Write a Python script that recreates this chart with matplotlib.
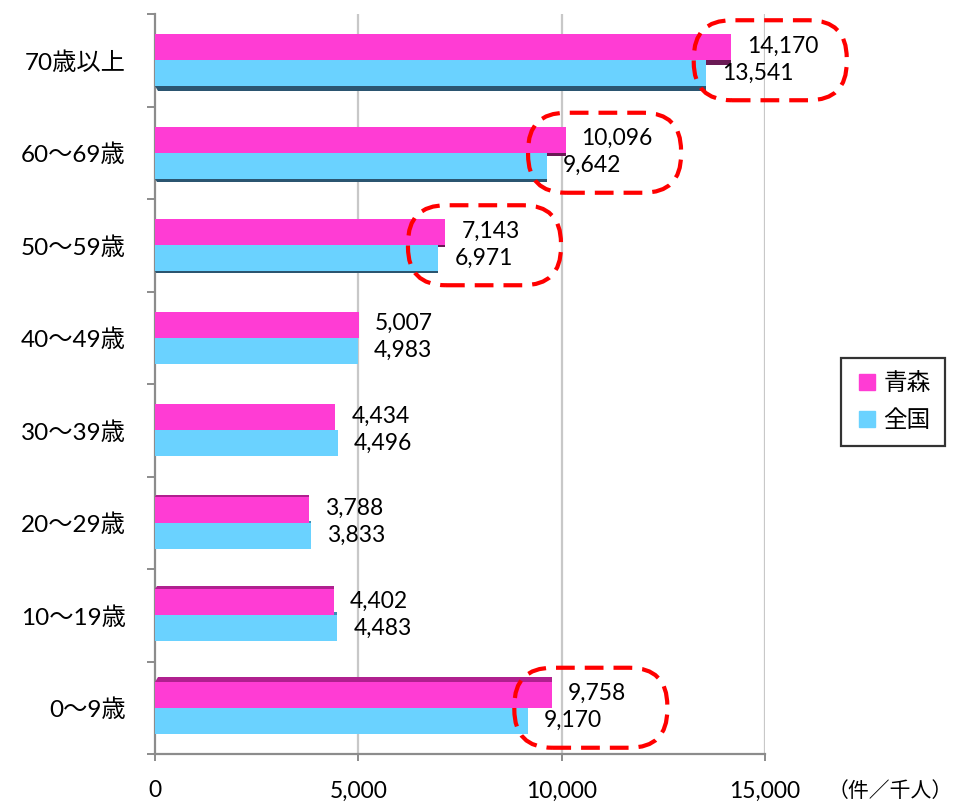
import matplotlib
matplotlib.use("Agg")
import matplotlib.pyplot as plt
from matplotlib.patches import Polygon, FancyBboxPatch
from matplotlib.lines import Line2D
from matplotlib.transforms import IdentityTransform
import numpy as np

# ---- data (bottom to top) ----
categories = ["0〜9歳", "10〜19歳", "20〜29歳", "30〜39歳",
              "40〜49歳", "50〜59歳", "60〜69歳", "70歳以上"]
aomori = [9758, 4402, 3788, 4434, 5007, 7143, 10096, 14170]
zenkoku = [9170, 4483, 3833, 4496, 4983, 6971, 9642, 13541]
series_names = ["青森", "全国"]
x_ticks = [0, 5000, 10000, 15000]
x_tick_labels = ["0", "5,000", "10,000", "15,000"]
unit_label = "（件／千人）"
highlight = ["0〜9歳", "50〜59歳", "60〜69歳", "70歳以上"]

C_MAG = "#FF3CD4"
C_CYA = "#6AD2FF"
C_MAG_D = "#B0208F"
C_CYA_D = "#2B5570"
GRID = "#C8C8C8"
AXC = "#8C8C8C"

NUM_FONT = ["Lato", "Noto Sans CJK JP"]
JP_FONT = ["Noto Sans CJK JP", "DejaVu Sans"]

W, H = 957, 806
fig = plt.figure(figsize=(W / 100, H / 100), dpi=100)
ax = fig.add_axes([155 / W, (H - 754) / H, (765 - 155) / W, (754 - 14) / H])

n = len(categories)
y = np.arange(n)
bh = 0.28
xmax = 15000
ax.set_xlim(0, xmax)
ax.set_ylim(-0.5, n - 0.5)

px_x = xmax / 610.0          # data units per pixel in x
px_y = n / 740.0             # data units per pixel in y

# gridlines
for t in x_ticks[1:]:
    ax.axvline(t, color=GRID, lw=1.6, zorder=0)

# bars
ax.barh(y + bh / 2, aomori, height=bh, color=C_MAG, zorder=3, linewidth=0)
ax.barh(y - bh / 2, zenkoku, height=bh, color=C_CYA, zorder=4, linewidth=0)

# pseudo-3D faces
for k in range(n):
    t = (k - 3.5) / 3.5 * 4.5 * px_y     # face thickness in data units
    s = abs(t) / px_y * 0.6 * px_x
    if t > 0:   # upper bars: bottom faces visible
        for val, yc, col, z in [(aomori[k], y[k] + bh / 2, "#6A1A55", 2.5),
                                (zenkoku[k], y[k] - bh / 2, C_CYA_D, 3.5)]:
            yb = yc - bh / 2
            ax.add_patch(Polygon([(0, yb), (val, yb), (val, yb - t), (s, yb - t)],
                                 closed=True, color=col, lw=0, zorder=z))
    elif t < 0:  # lower bars: top faces visible
        tt = -t
        for val, yc, col, z in [(aomori[k], y[k] + bh / 2, C_MAG_D, 4.5),
                                (zenkoku[k], y[k] - bh / 2, "#3C8FB5", 2.5)]:
            yt = yc + bh / 2
            ax.add_patch(Polygon([(0, yt), (val, yt), (val, yt + tt), (s, yt + tt)],
                                 closed=True, color=col, lw=0, zorder=z))

# value labels
for k in range(n):
    ax.annotate(f"{aomori[k]:,}", (aomori[k], y[k] + bh / 2),
                xytext=(16, 1), textcoords="offset pixels",
                ha="left", va="center", fontsize=16.5, family=NUM_FONT, zorder=6)
    ax.annotate(f"{zenkoku[k]:,}", (zenkoku[k], y[k] - bh / 2),
                xytext=(16, 0), textcoords="offset pixels",
                ha="left", va="center", fontsize=16.5, family=NUM_FONT, zorder=6)

# axes styling
for sp in ["top", "right"]:
    ax.spines[sp].set_visible(False)
ax.spines["left"].set_color(AXC)
ax.spines["bottom"].set_color(AXC)
ax.spines["left"].set_linewidth(1.6)
ax.spines["bottom"].set_linewidth(1.6)

ax.set_yticks(y)
ax.set_yticklabels(categories, family=NUM_FONT, fontsize=17.5)
ax.set_yticks(np.arange(-0.5, n, 1.0), minor=True)
ax.tick_params(axis="y", which="major", length=0, pad=21)
ax.tick_params(axis="y", which="minor", length=6, width=1.4, color=AXC)

ax.set_xticks(x_ticks)
ax.set_xticklabels(x_tick_labels, family=NUM_FONT, fontsize=16.5)
ax.tick_params(axis="x", length=5, width=1.4, color=AXC, pad=14)

fig.text(828 / W, 1 - 791 / H, unit_label, family=JP_FONT, fontsize=15,
         ha="left", va="center")

# highlight boxes
fig.canvas.draw()
for k, cat in enumerate(categories):
    if cat not in highlight:
        continue
    xd, yd = ax.transData.transform((aomori[k], y[k]))
    cx = xd + 39
    bw, bhh = 153, 80
    r = 38
    box = FancyBboxPatch((cx - bw / 2 + r, yd - bhh / 2 + r), bw - 2 * r, bhh - 2 * r,
                         boxstyle=f"round,pad={r},rounding_size={r}",
                         transform=IdentityTransform(), fill=False,
                         edgecolor="#FF0000", lw=3.0, linestyle=(0, (4.5, 2.4)),
                         zorder=10, clip_on=False)
    fig.add_artist(box)

# legend
handles = [Line2D([], [], marker="s", ls="", color=C_MAG, markersize=11),
           Line2D([], [], marker="s", ls="", color=C_CYA, markersize=11)]
leg = fig.legend(handles, series_names, loc="center",
                 bbox_to_anchor=(893 / W, 1 - 402 / H),
                 prop={"family": JP_FONT, "size": 17},
                 frameon=True, fancybox=False, edgecolor="black",
                 handletextpad=0.2, labelspacing=0.6, borderpad=0.6,
                 handlelength=1.0)
leg.get_frame().set_linewidth(1.6)

fig.savefig("out.png", dpi=100)
